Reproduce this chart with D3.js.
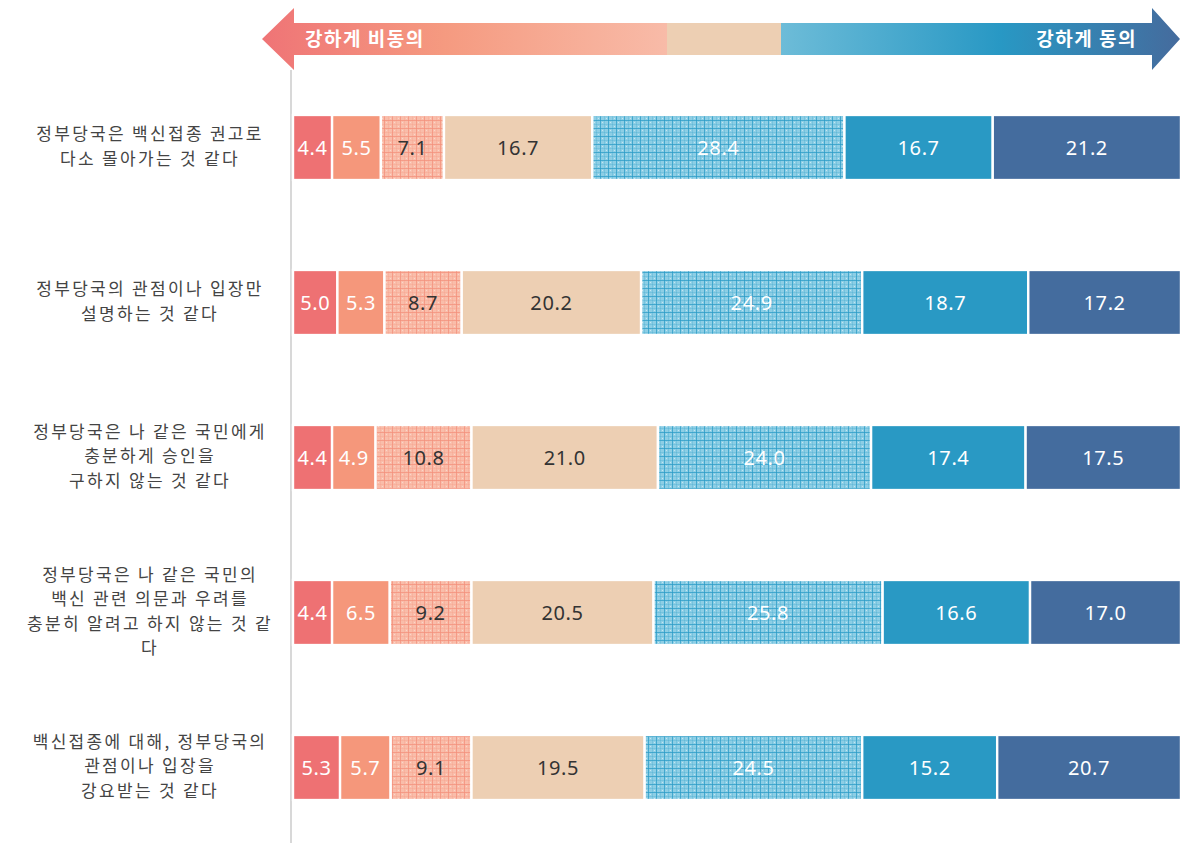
<!DOCTYPE html>
<meta charset="utf-8">
<style>
body { margin: 0; background: #fff; }
svg text { font-family: "Noto Sans CJK KR", "Noto Sans", sans-serif; }
.rowlabel { fill: #444; font-size: 17px; letter-spacing: 2.3px; }
.val { font-size: 20px; letter-spacing: 0.6px; font-family: "Noto Sans", "Noto Sans CJK KR", sans-serif; }
</style>
<svg width="1180" height="843"></svg>
<script src="https://d3js.org/d3.v7.min.js"></script>
<script>

var questions = [
  ["정부당국은 백신접종 권고로", "다소 몰아가는 것 같다"],
  ["정부당국의 관점이나 입장만", "설명하는 것 같다"],
  ["정부당국은 나 같은 국민에게", "충분하게 승인을", "구하지 않는 것 같다"],
  ["정부당국은 나 같은 국민의", "백신 관련 의문과 우려를", "충분히 알려고 하지 않는 것 같", "다"],
  ["백신접종에 대해, 정부당국의", "관점이나 입장을", "강요받는 것 같다"]
];
var strongDisagree = [4.4, 5.0, 4.4, 4.4, 5.3];
var disagree       = [5.5, 5.3, 4.9, 6.5, 5.7];
var weakDisagree   = [7.1, 8.7, 10.8, 9.2, 9.1];
var neutral        = [16.7, 20.2, 21.0, 20.5, 19.5];
var weakAgree      = [28.4, 24.9, 24.0, 25.8, 24.5];
var agree          = [16.7, 18.7, 17.4, 16.6, 15.2];
var strongAgree    = [21.2, 17.2, 17.5, 17.0, 20.7];
var series = [strongDisagree, disagree, weakDisagree, neutral, weakAgree, agree, strongAgree];
var fills = ["#ee7173", "#f5977b", "url(#patRed)", "#edcfb3", "url(#patBlue)", "#2999c4", "#446c9e"];
var textColors = ["#fff", "#fff", "#333", "#333", "#fff", "#fff", "#fff"];

var svg = d3.select("svg");
var defs = svg.append("defs");

function plaid(id, base, line, dot) {
  var p = defs.append("pattern").attr("id", id)
    .attr("patternUnits", "userSpaceOnUse").attr("width", 8).attr("height", 8);
  p.append("rect").attr("width", 8).attr("height", 8).attr("fill", base);
  p.append("rect").attr("x", 0).attr("y", 0).attr("width", 1).attr("height", 8).attr("fill", line).attr("opacity", 0.75);
  p.append("rect").attr("x", 0).attr("y", 0).attr("width", 8).attr("height", 1).attr("fill", line).attr("opacity", 0.75);
  p.append("rect").attr("x", 4).attr("y", 0).attr("width", 0.6).attr("height", 8).attr("fill", line).attr("opacity", 0.4);
  p.append("rect").attr("x", 0).attr("y", 4).attr("width", 8).attr("height", 0.6).attr("fill", line).attr("opacity", 0.4);
  p.append("rect").attr("x", 2).attr("y", 2).attr("width", 1).attr("height", 1).attr("fill", dot);
  p.append("rect").attr("x", 6).attr("y", 6).attr("width", 1).attr("height", 1).attr("fill", dot);
}
plaid("patRed", "#f9bdaa", "#f4907a", "#fcd6c9");
plaid("patBlue", "#8dcee5", "#2a9bc6", "#c4e7f3");

var gl = defs.append("linearGradient").attr("id", "gradL");
gl.append("stop").attr("offset", "0%").attr("stop-color", "#ef7476");
gl.append("stop").attr("offset", "45%").attr("stop-color", "#f59a80");
gl.append("stop").attr("offset", "100%").attr("stop-color", "#f8bba8");
var gr = defs.append("linearGradient").attr("id", "gradR");
gr.append("stop").attr("offset", "0%").attr("stop-color", "#6dbcd8");
gr.append("stop").attr("offset", "55%").attr("stop-color", "#2898c4");
gr.append("stop").attr("offset", "100%").attr("stop-color", "#456b9d");

var x = d3.scaleLinear().domain([0, 100]).range([293, 1181]);
var y = d3.scaleBand().domain(d3.range(questions.length)).range([70, 845])
  .paddingInner(0.58).paddingOuter(0.29);

// header arrow
var hy = 39, shaftH = 16, headH = 31;
svg.append("path")
  .attr("d", "M262," + hy + "L294," + (hy - headH) + "L294," + (hy - shaftH) + "L667," + (hy - shaftH) +
    "L667," + (hy + shaftH) + "L294," + (hy + shaftH) + "L294," + (hy + headH) + "Z")
  .attr("fill", "url(#gradL)");
svg.append("rect").attr("x", 667).attr("y", hy - shaftH).attr("width", 114).attr("height", shaftH * 2)
  .attr("fill", "#edcfb3");
svg.append("path")
  .attr("d", "M781," + (hy - shaftH) + "L1152," + (hy - shaftH) + "L1152," + (hy - headH) + "L1180," + hy +
    "L1152," + (hy + headH) + "L1152," + (hy + shaftH) + "L781," + (hy + shaftH) + "Z")
  .attr("fill", "url(#gradR)");
svg.append("text").attr("x", 305).attr("y", hy + 7).attr("fill", "#fff")
  .attr("font-size", "19px").attr("font-weight", "bold").attr("letter-spacing", "1.5px").text("강하게 비동의");
svg.append("text").attr("x", 1137).attr("y", hy + 7).attr("fill", "#fff").attr("text-anchor", "end")
  .attr("font-size", "19px").attr("font-weight", "bold").attr("letter-spacing", "1.5px").text("강하게 동의");

// axis line
svg.append("line").attr("x1", 291).attr("x2", 291).attr("y1", 70).attr("y2", 843)
  .attr("stroke", "#d8d8d8").attr("stroke-width", 2);

var rows = svg.append("g").selectAll("g").data(questions).enter().append("g");

rows.each(function(q, i) {
  var g = d3.select(this);
  var cum = 0;
  series.forEach(function(s, k) {
    var v = s[i], x0 = x(cum), x1 = x(cum + v);
    cum += v;
    g.append("rect").attr("x", x0).attr("y", y(i)).attr("width", x1 - x0).attr("height", y.bandwidth())
      .attr("fill", fills[k]).attr("stroke", "#fff").attr("stroke-width", 2.4);
    g.append("text").attr("class", "val").attr("x", (x0 + x1) / 2).attr("y", y(i) + y.bandwidth() / 2)
      .attr("dy", "0.36em").attr("text-anchor", "middle").attr("fill", textColors[k])
      .text(v.toFixed(1));
  });
  var lh = 24.5;
  var cy = y(i) + y.bandwidth() / 2 - (q.length - 1) * lh / 2 - 1;
  q.forEach(function(line, j) {
    g.append("text").attr("class", "rowlabel").attr("text-anchor", "middle")
      .attr("x", 150).attr("y", cy + j * lh).attr("dy", "0.35em")
      .text(line);
  });
});

</script>
